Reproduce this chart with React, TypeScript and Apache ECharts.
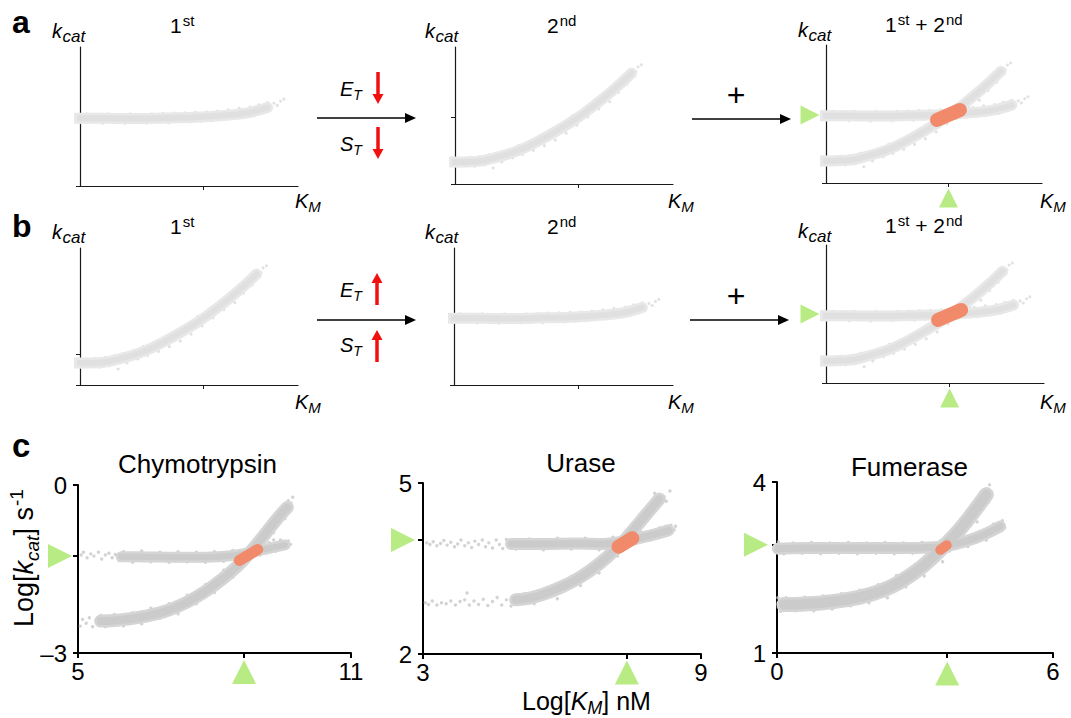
import React, { useEffect, useRef } from 'react';
import * as echarts from 'echarts';

const FONT = '"Liberation Sans", Arial, Helvetica, sans-serif';

// ---------------- Schematic panels (rows a and b), normalised units ----------------
const schemFlatBand = [[-0.02, 0.487], [0.1, 0.487], [0.25, 0.485], [0.4, 0.49], [0.55, 0.497], [0.68, 0.51], [0.78, 0.53], [0.86, 0.565]];
const schemFlatSpeckles = [[-0.015, 0.515], [0.005, 0.455], [0.03, 0.52], [0.055, 0.46], [0.08, 0.512], [0.105, 0.452], [0.13, 0.52], [0.155, 0.458], [0.18, 0.515], [0.205, 0.45], [0.23, 0.52], [0.255, 0.46], [0.28, 0.514], [0.305, 0.452], [0.33, 0.52], [0.355, 0.46], [0.38, 0.522], [0.405, 0.455], [0.43, 0.525], [0.455, 0.462], [0.48, 0.527], [0.505, 0.46], [0.53, 0.53], [0.555, 0.466], [0.58, 0.533], [0.605, 0.47], [0.63, 0.54], [0.655, 0.478], [0.68, 0.548], [0.705, 0.485], [0.73, 0.56], [0.755, 0.495], [0.78, 0.568], [0.8, 0.505], [0.82, 0.585], [0.84, 0.53], [0.86, 0.6], [0.875, 0.56], [0.89, 0.595], [0.905, 0.58], [0.92, 0.61], [0.935, 0.625]];
const schemCurveBand = [[-0.02, 0.16], [0.1, 0.165], [0.18, 0.19], [0.3, 0.25], [0.43, 0.355], [0.55, 0.47], [0.66, 0.6], [0.75, 0.72], [0.81, 0.81]];
const schemCurveSpeckles = [[-0.015, 0.19], [0.0, 0.13], [0.025, 0.185], [0.045, 0.135], [0.07, 0.195], [0.09, 0.13], [0.115, 0.2], [0.135, 0.14], [0.16, 0.215], [0.175, 0.117], [0.2, 0.228], [0.215, 0.16], [0.245, 0.25], [0.265, 0.19], [0.29, 0.28], [0.31, 0.215], [0.34, 0.31], [0.36, 0.245], [0.39, 0.345], [0.41, 0.28], [0.44, 0.39], [0.46, 0.32], [0.49, 0.44], [0.51, 0.37], [0.54, 0.5], [0.56, 0.43], [0.59, 0.55], [0.61, 0.49], [0.64, 0.61], [0.66, 0.55], [0.69, 0.67], [0.71, 0.6], [0.735, 0.73], [0.75, 0.67], [0.78, 0.78], [0.79, 0.73], [0.81, 0.83], [0.825, 0.79], [0.84, 0.855], [0.855, 0.87], [0.83, 0.82]];
const schemOrange = [[0.514, 0.457], [0.62, 0.529]];
const schemTickX = 0.567;
const schemTickY = [0.496, 0.489, 0.493, 0.226, 0.5, 0.5]; // a1 a2 a3 b1 b2 b3

// ---------------- Row c: enzymes ----------------
const enzymeNames = ['Chymotrypsin', 'Urase', 'Fumerase'];
const enzymeXRange = [[5, 11], [3, 9], [0, 6]];
const enzymeYRange = [[-3, 0], [2, 5], [1, 4]];
const enzymeMarker = [[8.65, -1.27], [7.4, 4.0], [3.7, 2.9]];

const chymoFlatBand = [[5.95, -1.28], [6.5, -1.285], [7.0, -1.29], [7.8, -1.29], [8.4, -1.26], [8.8, -1.2], [9.2, -1.13], [9.55, -1.07]];
const chymoFlatSpeckles = [[5.07, -1.25], [5.12, -1.2], [5.2, -1.3], [5.28, -1.23], [5.35, -1.27], [5.45, -1.2], [5.52, -1.32], [5.6, -1.25], [5.68, -1.22], [5.75, -1.3], [5.82, -1.24], [5.9, -1.35], [6.0, -1.19], [6.2, -1.38], [6.4, -1.18], [6.6, -1.37], [6.8, -1.2], [7.0, -1.38], [7.2, -1.19], [7.4, -1.37], [7.6, -1.2], [7.8, -1.38], [8.0, -1.19], [8.2, -1.36], [8.4, -1.17], [8.6, -1.33], [8.8, -1.1], [9.0, -1.25], [9.2, -1.03], [9.35, -1.18], [9.45, -0.98], [9.55, -1.12], [9.62, -1.0], [9.67, -1.06], [9.3, -0.98]];
const chymoCurveBand = [[5.5, -2.43], [5.8, -2.42], [6.3, -2.37], [6.9, -2.26], [7.4, -2.09], [7.8, -1.9], [8.2, -1.66], [8.6, -1.37], [9.0, -0.99], [9.35, -0.63], [9.6, -0.4]];
const chymoCurveSpeckles = [[5.05, -2.52], [5.1, -2.4], [5.18, -2.47], [5.25, -2.37], [5.32, -2.53], [5.4, -2.42], [5.5, -2.33], [5.6, -2.53], [5.8, -2.31], [6.0, -2.52], [6.2, -2.28], [6.4, -2.48], [6.6, -2.2], [6.8, -2.38], [7.0, -2.12], [7.2, -2.3], [7.4, -1.97], [7.6, -2.12], [7.8, -1.78], [8.0, -1.92], [8.2, -1.52], [8.4, -1.65], [8.8, -1.08], [9.0, -1.13], [9.2, -0.72], [9.3, -0.85], [9.45, -0.45], [9.55, -0.6], [9.68, -0.32], [9.72, -0.22], [9.62, -0.28]];
const chymoOrange = [[8.545, -1.348], [8.95, -1.152]];

const uraseFlatBand = [[4.9, 3.93], [5.6, 3.93], [6.3, 3.94], [6.9, 3.93], [7.3, 3.97], [7.7, 4.04], [8.05, 4.11], [8.3, 4.17]];
const uraseFlatSpeckles = [[3.08, 3.95], [3.15, 3.92], [3.22, 3.97], [3.3, 3.9], [3.38, 3.94], [3.45, 3.99], [3.52, 3.91], [3.6, 3.96], [3.68, 3.88], [3.75, 3.93], [3.82, 4.0], [3.9, 3.9], [3.98, 3.95], [4.05, 3.87], [4.12, 3.98], [4.2, 3.92], [4.28, 4.0], [4.35, 3.88], [4.42, 3.95], [4.5, 3.86], [4.58, 4.0], [4.65, 3.92], [4.72, 3.85], [4.8, 4.01], [5.0, 3.84], [5.3, 4.02], [5.6, 3.83], [5.9, 4.03], [6.2, 3.84], [6.5, 4.03], [6.8, 3.83], [7.1, 4.05], [7.4, 3.88], [7.7, 4.14], [7.9, 4.0], [8.1, 4.21], [8.25, 4.08], [8.35, 4.26], [8.42, 4.18], [8.45, 4.24]];
const uraseCurveBand = [[5.0, 2.95], [5.3, 2.98], [5.6, 3.05], [6.0, 3.18], [6.4, 3.35], [6.8, 3.58], [7.2, 3.87], [7.5, 4.14], [7.8, 4.43], [8.1, 4.72]];
const uraseCurveSpeckles = [[3.05, 2.9], [3.12, 2.87], [3.2, 2.93], [3.3, 2.86], [3.4, 2.9], [3.5, 2.88], [3.6, 2.93], [3.7, 2.86], [3.8, 2.92], [3.9, 2.95], [3.95, 3.07], [4.0, 2.86], [4.1, 2.93], [4.2, 2.87], [4.3, 2.96], [4.4, 2.85], [4.5, 2.92], [4.6, 2.99], [4.7, 2.86], [4.8, 2.95], [4.9, 2.84], [5.2, 3.06], [5.4, 2.88], [5.7, 3.15], [5.9, 2.97], [6.2, 3.36], [6.4, 3.2], [6.6, 3.55], [6.8, 3.42], [7.0, 3.82], [7.2, 3.72], [7.6, 4.33], [7.9, 4.42], [8.0, 4.82], [8.2, 4.76], [8.33, 4.86], [8.25, 4.68]];
const uraseOrange = [[7.22, 3.883], [7.52, 4.03]];

const fumFlatBand = [[0.02, 2.83], [0.6, 2.84], [1.3, 2.84], [2.0, 2.84], [2.7, 2.84], [3.3, 2.85], [3.7, 2.88], [4.1, 2.96], [4.5, 3.08], [4.85, 3.22]];
const fumFlatSpeckles = [[0.03, 2.95], [0.15, 2.74], [0.35, 2.93], [0.55, 2.75], [0.75, 2.94], [0.95, 2.74], [1.15, 2.93], [1.35, 2.75], [1.55, 2.94], [1.75, 2.74], [1.95, 2.93], [2.15, 2.75], [2.35, 2.94], [2.55, 2.74], [2.75, 2.93], [2.95, 2.75], [3.15, 2.94], [3.35, 2.76], [3.55, 2.97], [3.75, 2.79], [3.95, 3.02], [4.15, 2.87], [4.35, 3.1], [4.55, 2.98], [4.7, 3.26], [4.8, 3.12], [4.9, 3.32], [4.95, 3.2]];
const fumCurveBand = [[0.15, 1.85], [0.6, 1.86], [1.2, 1.9], [1.8, 1.98], [2.3, 2.1], [2.7, 2.26], [3.1, 2.48], [3.5, 2.77], [3.9, 3.1], [4.25, 3.45], [4.55, 3.78]];
const fumCurveSpeckles = [[0.02, 1.97], [0.03, 1.8], [0.08, 1.73], [0.2, 1.97], [0.4, 1.74], [0.6, 1.98], [0.8, 1.74], [1.0, 2.0], [1.2, 1.77], [1.4, 2.04], [1.6, 1.83], [1.8, 2.1], [2.0, 1.88], [2.2, 2.2], [2.4, 1.97], [2.6, 2.36], [2.8, 2.16], [3.0, 2.55], [3.2, 2.35], [3.4, 2.82], [3.6, 2.6], [3.8, 3.12], [4.0, 2.95], [4.2, 3.5], [4.35, 3.3], [4.5, 3.82], [4.62, 3.95], [4.6, 3.65]];
const fumOrange = [[3.55, 2.81], [3.69, 2.89]];

// ---------------- styles ----------------
const SCHEM = { outer: '#e8e8e8', inner: '#e0e0e0', speck: '#d9d9d9', axis: '#1a1a1a', axisW: 1.2, tick: 4, dot: 3 };
const REAL = { outer: '#d5d5d5', inner: '#cbcbcb', speck: '#c8c8c8', axis: '#000', axisW: 2, tick: 5, dot: 3.4 };
const ORANGE = '#f08a6a';
const GREEN = '#a6e664';
const BK = 0.35; // baseline offset for middle-aligned text

type Cloud = { band: number[][]; speckles: number[][]; width: number };
type Plot = {
  box: number[]; x: number[]; y: number[]; xTicks: number[]; yTicks: number[];
  real: boolean; clouds: Cloud[]; orange?: { pts: number[][]; width: number };
  marker?: number[]; markerSize?: number; offL?: number; offB?: number;
};

function buildPlots(): Plot[] {
  const sf: Cloud = { band: schemFlatBand, speckles: schemFlatSpeckles, width: 9 };
  const sc: Cloud = { band: schemCurveBand, speckles: schemCurveSpeckles, width: 9 };
  const boxes = [
    [80, 47, 218, 139], [455, 47, 218, 137], [826, 45, 216, 138],
    [80, 248, 218, 137], [454, 248, 219, 137], [826, 245, 218, 138],
  ];
  const cloudSets = [[sf], [sc], [sf, sc], [sc], [sf], [sf, sc]];
  const plots: Plot[] = boxes.map((box, i) => {
    const combined = i === 2 || i === 5;
    return {
      box, x: [0, 1], y: [0, 1], xTicks: [schemTickX], yTicks: [0, schemTickY[i]], real: false,
      clouds: cloudSets[i],
      orange: combined ? { pts: schemOrange, width: 14 } : undefined,
      marker: combined ? [schemTickX, schemTickY[i]] : undefined,
      markerSize: 19, offL: 16, offB: 15,
    };
  });
  const cBoxes = [[78, 485, 273, 168], [423, 483, 278, 171], [777, 482, 276, 171]];
  const cClouds: Cloud[][] = [
    [{ band: chymoFlatBand, speckles: chymoFlatSpeckles, width: 9 }, { band: chymoCurveBand, speckles: chymoCurveSpeckles, width: 11 }],
    [{ band: uraseFlatBand, speckles: uraseFlatSpeckles, width: 10 }, { band: uraseCurveBand, speckles: uraseCurveSpeckles, width: 11 }],
    [{ band: fumFlatBand, speckles: fumFlatSpeckles, width: 10 }, { band: fumCurveBand, speckles: fumCurveSpeckles, width: 13 }],
  ];
  const cOrange = [{ pts: chymoOrange, width: 11 }, { pts: uraseOrange, width: 14 }, { pts: fumOrange, width: 10 }];
  const offL = [18, 20, 21];
  const offB = [19, 18.5, 20.5];
  cBoxes.forEach((box, k) => {
    plots.push({
      box, x: enzymeXRange[k], y: enzymeYRange[k],
      xTicks: [enzymeXRange[k][0], enzymeMarker[k][0], enzymeXRange[k][1]],
      yTicks: [enzymeYRange[k][0], enzymeMarker[k][1], enzymeYRange[k][1]],
      real: true, clouds: cClouds[k], orange: cOrange[k], marker: enzymeMarker[k],
      markerSize: 24, offL: offL[k], offB: offB[k],
    });
  });
  return plots;
}

type Run = { t: string; size: number; italic?: boolean; bold?: boolean; dy?: number; dx?: number };

let ctx2d: CanvasRenderingContext2D | null = null;
function fontStr(r: Run) {
  return `${r.italic ? 'italic ' : ''}${r.bold ? 'bold ' : ''}${r.size}px ${FONT}`;
}
function measure(r: Run) {
  if (!ctx2d) ctx2d = document.createElement('canvas').getContext('2d');
  ctx2d!.font = fontStr(r);
  return ctx2d!.measureText(r.t).width;
}
function runs(rs: Run[], x0: number, baseline: number, anchor: 'left' | 'center' = 'left'): any[] {
  const ws = rs.map(measure);
  const total = ws.reduce((a, b) => a + b, 0) + rs.reduce((a, r) => a + (r.dx || 0), 0);
  let x = anchor === 'center' ? x0 - total / 2 : x0;
  return rs.map((r, i) => {
    x += r.dx || 0;
    const el = {
      type: 'text', x, y: baseline + (r.dy || 0) - BK * r.size, silent: true,
      style: {
        text: r.t, fill: '#000', fontSize: r.size, fontFamily: FONT,
        fontStyle: r.italic ? 'italic' : 'normal', fontWeight: r.bold ? 'bold' : 'normal',
        textAlign: 'left', align: 'left', textVerticalAlign: 'middle', verticalAlign: 'middle',
      },
    };
    x += ws[i];
    return el;
  });
}

function hArrow(x1: number, x2: number, y: number): any[] {
  return [
    { type: 'line', shape: { x1, y1: y, x2: x2 - 2, y2: y }, style: { stroke: '#000', lineWidth: 1.6 }, silent: true },
    { type: 'polygon', shape: { points: [[x2 - 11, y - 5], [x2, y], [x2 - 11, y + 5]] }, style: { fill: '#000' }, silent: true },
  ];
}
function vArrow(x: number, yTail: number, yTip: number): any[] {
  const dir = yTip > yTail ? 1 : -1;
  const base = yTip - dir * 10;
  return [
    { type: 'line', shape: { x1: x, y1: yTail, x2: x, y2: base + dir }, style: { stroke: '#f01010', lineWidth: 3.5 }, silent: true },
    { type: 'polygon', shape: { points: [[x - 5.5, base], [x + 5.5, base], [x, yTip]] }, style: { fill: '#f01010' }, silent: true },
  ];
}

function buildGraphics(): any[] {
  const g: any[] = [];
  g.push(...runs([{ t: 'a', size: 32, bold: true }], 12, 33));
  g.push(...runs([{ t: 'b', size: 32, bold: true }], 12, 237));
  g.push(...runs([{ t: 'c', size: 33, bold: true }], 12, 457));
  const rowDy = [0, 201];
  const kx = [52, 425, 798];
  const kb = [38, 38, 37];
  const kmx = [295, 668, 1040];
  rowDy.forEach((dy) => {
    kx.forEach((x, i) => {
      g.push(...runs([{ t: 'k', size: 20, italic: true }, { t: 'cat', size: 17, italic: true, dy: 4, dx: 0.5 }], x, kb[i] + dy));
      g.push(...runs([{ t: 'K', size: 20, italic: true }, { t: 'M', size: 15, italic: true, dy: 4 }], kmx[i], 208 + dy));
    });
    g.push(...runs([{ t: '1', size: 21 }, { t: 'st', size: 15, dy: -7, dx: 1 }], 170, 33 + dy));
    g.push(...runs([{ t: '2', size: 21 }, { t: 'nd', size: 15, dy: -7, dx: 1 }], 547, 33 + dy));
    g.push(...runs([
      { t: '1', size: 21 }, { t: 'st', size: 15, dy: -7, dx: 1 }, { t: ' + ', size: 21 },
      { t: '2', size: 21 }, { t: 'nd', size: 15, dy: -7, dx: 1 },
    ], 885, 32 + dy));
    g.push(...runs([{ t: 'E', size: 20, italic: true }, { t: 'T', size: 14, italic: true, dy: 4 }], 340, 96 + dy));
    g.push(...runs([{ t: 'S', size: 20, italic: true }, { t: 'T', size: 14, italic: true, dy: 4 }], 340, 151 + dy));
    g.push({
      type: 'text', x: 736, y: 95 + dy, silent: true,
      style: { text: '+', fill: '#000', fontSize: 32, fontFamily: FONT, textAlign: 'center', align: 'center', textVerticalAlign: 'middle', verticalAlign: 'middle' },
    });
  });
  g.push(...hArrow(317, 416, 118), ...hArrow(692, 791, 119));
  g.push(...hArrow(317, 416, 320), ...hArrow(690, 789, 320));
  g.push(...vArrow(378, 72, 104), ...vArrow(378, 127, 159));
  g.push(...vArrow(377, 305, 273), ...vArrow(377, 362, 330));

  const tx = [197.5, 581, 909.5];
  const tb = [473, 472, 476];
  enzymeNames.forEach((n, i) => g.push(...runs([{ t: n, size: 26 }], tx[i], tb[i], 'center')));
  g.push({
    type: 'group', x: 33, y: 627, rotation: Math.PI / 2, silent: true,
    children: runs([
      { t: 'Log[', size: 27 }, { t: 'k', size: 27, italic: true }, { t: 'cat', size: 19, italic: true, dy: 6 },
      { t: ']', size: 27 }, { t: ' s', size: 27 }, { t: '-1', size: 19, dy: -10, dx: 1 },
    ], 0, 0),
  });
  g.push(...runs([
    { t: 'Log[', size: 25 }, { t: 'K', size: 25, italic: true }, { t: 'M', size: 18, italic: true, dy: 4 },
    { t: '] nM', size: 25 },
  ], 522, 710));
  return g;
}

function buildOption() {
  const plots = buildPlots();
  const grid: any[] = [], xAxis: any[] = [], yAxis: any[] = [], series: any[] = [];
  const fmt = (v: number) => (v < 0 ? '\u2013' + Math.abs(v) : String(v));
  plots.forEach((p, i) => {
    const S = p.real ? REAL : SCHEM;
    grid.push({ left: p.box[0], top: p.box[1], width: p.box[2], height: p.box[3], containLabel: false });
    const axisLine = { show: true, onZero: false, lineStyle: { color: S.axis, width: S.axisW } };
    const tick = (vals: number[]) => ({ show: true, customValues: vals, length: S.tick, lineStyle: { color: S.axis, width: p.real ? 2 : 1 } });
    const label = (vals: number[], margin: number) => p.real
      ? { show: true, customValues: vals, margin, fontSize: 24, color: '#000', fontFamily: FONT, formatter: fmt }
      : { show: false };
    xAxis.push({
      type: 'value', gridIndex: i, min: p.x[0], max: p.x[1], position: 'bottom',
      axisLine, splitLine: { show: false }, axisTick: tick(p.xTicks), axisLabel: label([p.x[0], p.x[1]], 6),
    });
    yAxis.push({
      type: 'value', gridIndex: i, min: p.y[0], max: p.y[1], position: 'left',
      axisLine, splitLine: { show: false }, axisTick: tick(p.yTicks), axisLabel: label([p.y[0], p.y[1]], 11),
    });
    const base = { xAxisIndex: i, yAxisIndex: i, silent: true, clip: false, animation: false };
    const line = (data: number[][], width: number, color: string, smooth: number) => ({
      ...base, type: 'line', data, symbol: 'none', showSymbol: false, smooth,
      lineStyle: { color, width, cap: 'round', join: 'round' },
    });
    p.clouds.forEach((c) => series.push(line(c.band, c.width + 2, S.outer, 0.4)));
    p.clouds.forEach((c) => series.push(line(c.band, c.width - 3, S.inner, 0.4)));
    p.clouds.forEach((c) => series.push({
      ...base, type: 'scatter', data: c.speckles, symbol: 'circle', symbolSize: S.dot, itemStyle: { color: S.speck },
    }));
    if (p.orange) series.push(line(p.orange.pts, p.orange.width, ORANGE, 0));
    if (p.marker) {
      series.push({
        ...base, type: 'scatter', data: [[p.x[0], p.marker[1]]], symbol: 'triangle',
        symbolSize: p.markerSize, symbolRotate: -90, symbolOffset: [-(p.offL || 0), 0], itemStyle: { color: GREEN },
      });
      series.push({
        ...base, type: 'scatter', data: [[p.marker[0], p.y[0]]], symbol: 'triangle',
        symbolSize: p.markerSize, symbolOffset: [0, p.offB || 0], itemStyle: { color: GREEN },
      });
    }
  });
  return {
    animation: false,
    backgroundColor: '#fff',
    grid, xAxis, yAxis, series,
    graphic: { elements: buildGraphics() },
  };
}

export default function App() {
  const ref = useRef<HTMLDivElement>(null);
  useEffect(() => {
    document.body.style.margin = '0';
    const chart = echarts.init(ref.current!, null, { renderer: 'svg' });
    chart.setOption(buildOption() as any);
    return () => chart.dispose();
  }, []);
  return <div ref={ref} style={{ width: 1071, height: 718 }} />;
}
